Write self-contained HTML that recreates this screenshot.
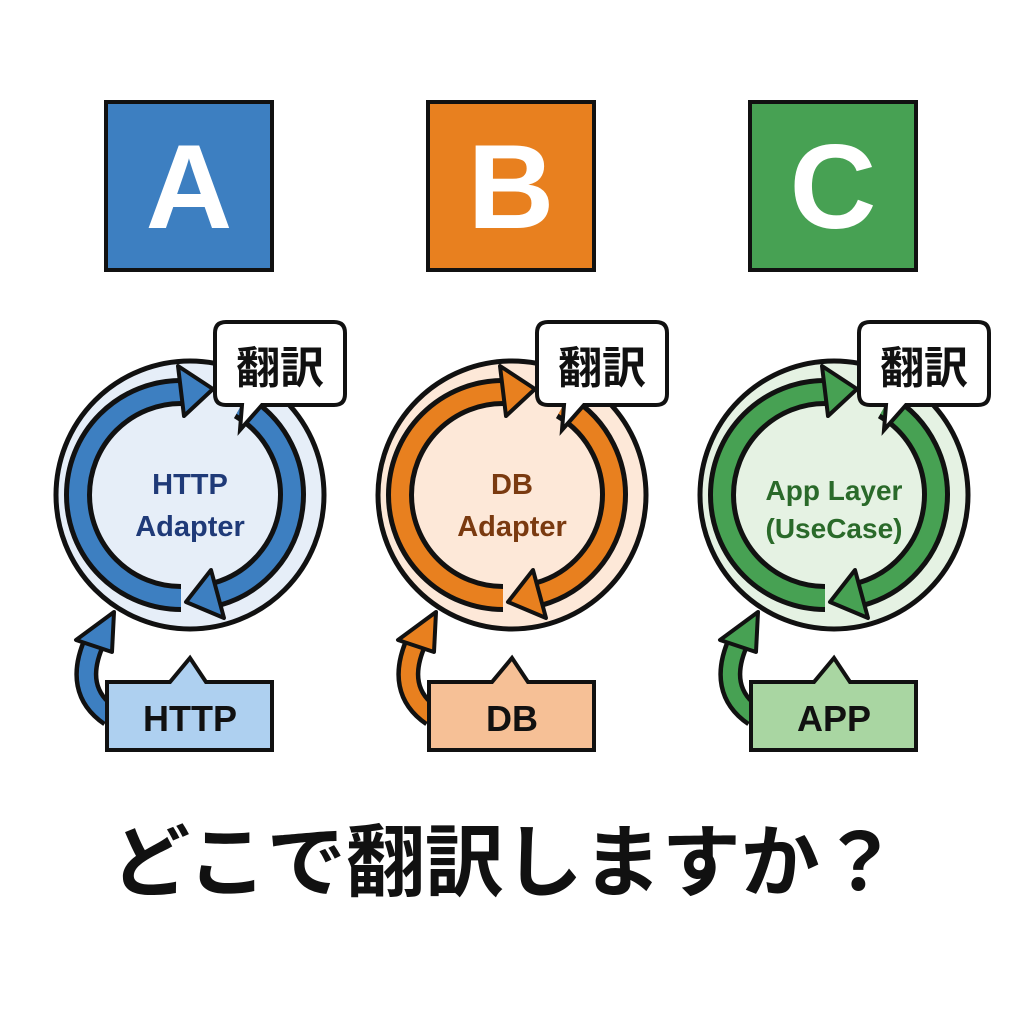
<!DOCTYPE html>
<html><head><meta charset="utf-8"><style>
html,body{margin:0;padding:0;background:#fff}
svg{display:block}
text{font-family:"Liberation Sans","Noto Sans CJK JP",sans-serif;font-weight:bold}
.jp{font-family:"Noto Sans CJK JP","Liberation Sans",sans-serif;font-weight:bold}
</style></head><body>
<svg width="1024" height="1024" viewBox="0 0 1024 1024" xmlns="http://www.w3.org/2000/svg">

<g>
  <rect x="106" y="102" width="166" height="168" fill="#3d7fc1" stroke="#111" stroke-width="4"/>
  <text x="189" y="228" font-size="120" fill="#fff" text-anchor="middle">A</text>
  <circle cx="190" cy="495" r="134" fill="#e6eef8" stroke="#111" stroke-width="5"/>
  <path d="M181 598 A103 103 0 0 1 181 392" fill="none" stroke="#111" stroke-width="28"/>
  <path d="M181 598 A103 103 0 0 1 181 392" fill="none" stroke="#3d7fc1" stroke-width="18"/>
  <polygon points="213,389 178,366 184,416" fill="#3d7fc1" stroke="#111" stroke-width="4" stroke-linejoin="round"/>
  <path d="M241 406 A103 103 0 0 1 217 594" fill="none" stroke="#111" stroke-width="28"/>
  <path d="M241 406 A103 103 0 0 1 217 594" fill="none" stroke="#3d7fc1" stroke-width="18"/>
  <polygon points="186,602 224,618 211,570" fill="#3d7fc1" stroke="#111" stroke-width="4" stroke-linejoin="round"/>
  <text x="190" y="494" font-size="29" fill="#1f3a78" text-anchor="middle">HTTP</text>
  <text x="190" y="536" font-size="29" fill="#1f3a78" text-anchor="middle">Adapter</text>
  <path d="M226 322 H334 Q345 322 345 333 V394 Q345 405 334 405 H262 L240 430 L242 405 H226 Q215 405 215 394 V333 Q215 322 226 322 Z" fill="#fff" stroke="#111" stroke-width="4"/>
  <text x="280" y="383" font-size="44" class="jp" fill="#111" text-anchor="middle">翻訳</text>
  <path d="M110 716 Q72 690 95 640" fill="none" stroke="#111" stroke-width="24"/>
  <path d="M110 716 Q72 690 95 640" fill="none" stroke="#3d7fc1" stroke-width="15"/>
  <polygon points="114,612 76,640 112,652" fill="#3d7fc1" stroke="#111" stroke-width="4" stroke-linejoin="round"/>
  <path d="M107 682 H170 L190 658 L206 682 H272 V750 H107 Z" fill="#aed0f0" stroke="#111" stroke-width="4"/>
  <text x="190" y="731" font-size="36" fill="#111" text-anchor="middle">HTTP</text>
</g>

<g transform="translate(322,0)">
  <rect x="106" y="102" width="166" height="168" fill="#e8801f" stroke="#111" stroke-width="4"/>
  <text x="189" y="228" font-size="120" fill="#fff" text-anchor="middle">B</text>
  <circle cx="190" cy="495" r="134" fill="#fde8d8" stroke="#111" stroke-width="5"/>
  <path d="M181 598 A103 103 0 0 1 181 392" fill="none" stroke="#111" stroke-width="28"/>
  <path d="M181 598 A103 103 0 0 1 181 392" fill="none" stroke="#e8801f" stroke-width="18"/>
  <polygon points="213,389 178,366 184,416" fill="#e8801f" stroke="#111" stroke-width="4" stroke-linejoin="round"/>
  <path d="M241 406 A103 103 0 0 1 217 594" fill="none" stroke="#111" stroke-width="28"/>
  <path d="M241 406 A103 103 0 0 1 217 594" fill="none" stroke="#e8801f" stroke-width="18"/>
  <polygon points="186,602 224,618 211,570" fill="#e8801f" stroke="#111" stroke-width="4" stroke-linejoin="round"/>
  <text x="190" y="494" font-size="29" fill="#7a3a10" text-anchor="middle">DB</text>
  <text x="190" y="536" font-size="29" fill="#7a3a10" text-anchor="middle">Adapter</text>
  <path d="M226 322 H334 Q345 322 345 333 V394 Q345 405 334 405 H262 L240 430 L242 405 H226 Q215 405 215 394 V333 Q215 322 226 322 Z" fill="#fff" stroke="#111" stroke-width="4"/>
  <text x="280" y="383" font-size="44" class="jp" fill="#111" text-anchor="middle">翻訳</text>
  <path d="M110 716 Q72 690 95 640" fill="none" stroke="#111" stroke-width="24"/>
  <path d="M110 716 Q72 690 95 640" fill="none" stroke="#e8801f" stroke-width="15"/>
  <polygon points="114,612 76,640 112,652" fill="#e8801f" stroke="#111" stroke-width="4" stroke-linejoin="round"/>
  <path d="M107 682 H170 L190 658 L206 682 H272 V750 H107 Z" fill="#f6c096" stroke="#111" stroke-width="4"/>
  <text x="190" y="731" font-size="36" fill="#111" text-anchor="middle">DB</text>
</g>

<g transform="translate(644,0)">
  <rect x="106" y="102" width="166" height="168" fill="#47a153" stroke="#111" stroke-width="4"/>
  <text x="189" y="228" font-size="120" fill="#fff" text-anchor="middle">C</text>
  <circle cx="190" cy="495" r="134" fill="#e5f2e3" stroke="#111" stroke-width="5"/>
  <path d="M181 598 A103 103 0 0 1 181 392" fill="none" stroke="#111" stroke-width="28"/>
  <path d="M181 598 A103 103 0 0 1 181 392" fill="none" stroke="#47a153" stroke-width="18"/>
  <polygon points="213,389 178,366 184,416" fill="#47a153" stroke="#111" stroke-width="4" stroke-linejoin="round"/>
  <path d="M241 406 A103 103 0 0 1 217 594" fill="none" stroke="#111" stroke-width="28"/>
  <path d="M241 406 A103 103 0 0 1 217 594" fill="none" stroke="#47a153" stroke-width="18"/>
  <polygon points="186,602 224,618 211,570" fill="#47a153" stroke="#111" stroke-width="4" stroke-linejoin="round"/>
  <text x="190" y="500" font-size="28" fill="#2a6a2a" text-anchor="middle">App Layer</text>
  <text x="190" y="538" font-size="28" fill="#2a6a2a" text-anchor="middle">(UseCase)</text>
  <path d="M226 322 H334 Q345 322 345 333 V394 Q345 405 334 405 H262 L240 430 L242 405 H226 Q215 405 215 394 V333 Q215 322 226 322 Z" fill="#fff" stroke="#111" stroke-width="4"/>
  <text x="280" y="383" font-size="44" class="jp" fill="#111" text-anchor="middle">翻訳</text>
  <path d="M110 716 Q72 690 95 640" fill="none" stroke="#111" stroke-width="24"/>
  <path d="M110 716 Q72 690 95 640" fill="none" stroke="#47a153" stroke-width="15"/>
  <polygon points="114,612 76,640 112,652" fill="#47a153" stroke="#111" stroke-width="4" stroke-linejoin="round"/>
  <path d="M107 682 H170 L190 658 L206 682 H272 V750 H107 Z" fill="#a9d6a2" stroke="#111" stroke-width="4"/>
  <text x="190" y="731" font-size="36" fill="#111" text-anchor="middle">APP</text>
</g>

<text x="505" y="890" font-size="79" class="jp" fill="#111" text-anchor="middle">どこで翻訳しますか？</text>
</svg>
</body></html>
